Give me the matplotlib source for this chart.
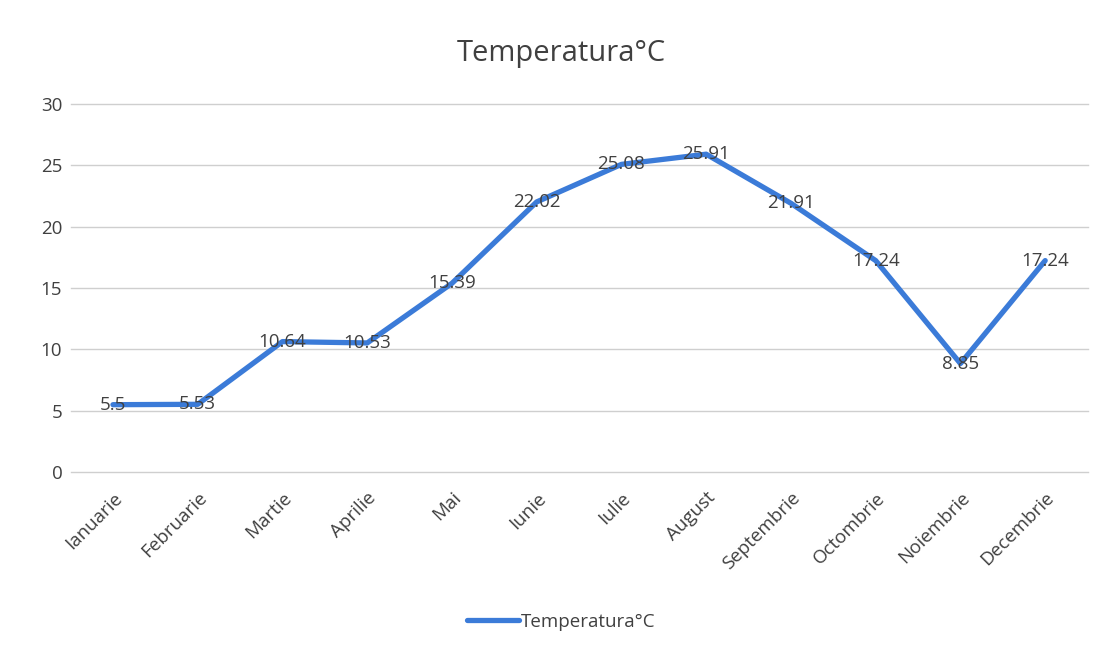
import matplotlib.pyplot as plt

luni = ['Ianuarie', 'Februarie', 'Martie', 'Aprilie', 'Mai', 'Iunie', 'Iulie',
        'August', 'Septembrie', 'Octombrie', 'Noiembrie', 'Decembrie']
temperaturi = [5.5, 5.53, 10.64, 10.53, 15.39, 22.02, 25.08, 25.91, 21.91, 17.24, 8.85, 17.24]
etichete = ['5.5', '5.53', '10.64', '10.53', '15.39', '22.02', '25.08', '25.91',
            '21.91', '17.24', '8.85', '17.24']

plt.rcParams['font.family'] = ['Open Sans', 'DejaVu Sans']
gri = '#404040'

fig = plt.figure(figsize=(11.03, 6.54), dpi=100)
ax = fig.add_axes([0.064, 0.278, 0.922, 0.563])
x = list(range(len(luni)))
linie, = ax.plot(x, temperaturi, color='#3b7bd8', lw=3.8, solid_capstyle='round',
                 solid_joinstyle='round', label='Temperatura°C', zorder=3)
for xi, yi, t in zip(x, temperaturi, etichete):
    ax.text(xi, yi, t, ha='center', va='center', fontsize=13.5, color=gri, zorder=4)

ax.set_xlim(-0.5, len(luni) - 0.5)
ax.set_ylim(0, 30)
ax.set_yticks([0, 5, 10, 15, 20, 25, 30])
ax.set_xticks(x)
ax.set_xticklabels(luni, rotation=45, ha='right', rotation_mode='anchor')
ax.tick_params(length=0, labelsize=13.5, colors=gri)
ax.tick_params(axis='x', pad=12)
ax.tick_params(axis='y', pad=6)
ax.grid(axis='y', color='#cfcfcf', lw=1)
for gl in ax.get_ygridlines():
    gl.set_clip_on(False)
ax.set_axisbelow(True)
for s in ax.spines.values():
    s.set_visible(False)

fig.text(0.509, 0.918, 'Temperatura°C', ha='center', va='center', fontsize=21, color=gri)
fig.legend(handles=[linie], loc='center', bbox_to_anchor=(0.509, 0.049), frameon=False,
           fontsize=13.5, labelcolor=gri, handlelength=2.8, handletextpad=0.1)

plt.savefig('out.png', dpi=100)
